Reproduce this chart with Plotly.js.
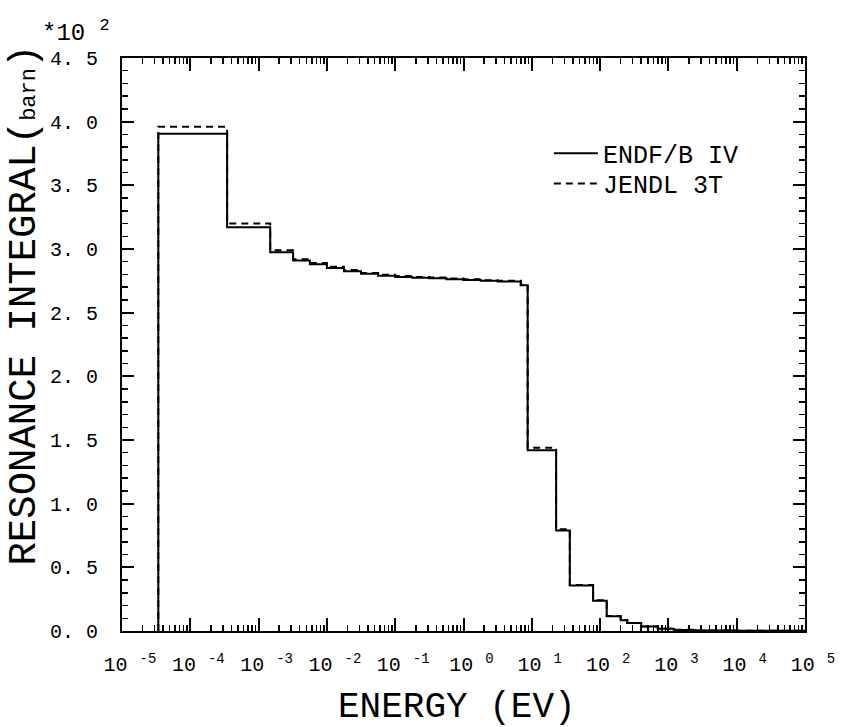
<!DOCTYPE html>
<html>
<head>
<meta charset="utf-8">
<script src="https://cdn.plot.ly/plotly-3.0.1.min.js"></script>
<style>html,body{margin:0;padding:0;background:#fff;}#chart{width:841px;height:727px;}</style>
</head>
<body>
<div id="chart"></div>
<script>
// Bin edges (eV)
const binEdges = [3.4e-5, 3.46e-4, 1.48e-3, 3.2e-3, 5.62e-3, 1e-2, 1.78e-2, 3.16e-2, 5.62e-2, 0.1, 0.178, 0.316, 0.562, 1.0, 1.78, 3.16, 6.9, 8.7, 22.7, 36, 79, 125, 200, 250, 400, 700, 1200, 2500, 1e4, 1e5];
// Resonance integral per bin (x10^2 barn)
const endfValues = [3.905, 3.17, 2.975, 2.91, 2.88, 2.85, 2.825, 2.805, 2.79, 2.78, 2.775, 2.77, 2.763, 2.757, 2.75, 2.745, 2.715, 1.42, 0.79, 0.358, 0.238, 0.115, 0.085, 0.062, 0.035, 0.018, 0.008, 0.003, 0.001];
const jendlValues = [3.96, 3.20, 2.99, 2.92, 2.89, 2.86, 2.835, 2.812, 2.797, 2.787, 2.781, 2.776, 2.768, 2.762, 2.755, 2.75, 2.72, 1.44, 0.80, 0.362, 0.242, 0.117, 0.087, 0.063, 0.036, 0.019, 0.009, 0.003, 0.001];
const seriesNames = ["ENDF/B IV", "JENDL 3T"];
const xTickVals = [1e-5, 1e-4, 1e-3, 1e-2, 1e-1, 1, 10, 100, 1000, 1e4, 1e5];
const xTickText = ["10 <sup>-5</sup>", "10 <sup>-4</sup>", "10 <sup>-3</sup>", "10 <sup>-2</sup>", "10 <sup>-1</sup>", "10 <sup>0</sup>", "10 <sup>1</sup>", "10 <sup>2</sup>", "10 <sup>3</sup>", "10 <sup>4</sup>", "10 <sup>5</sup>"];
const yTickVals = [0, 0.5, 1.0, 1.5, 2.0, 2.5, 3.0, 3.5, 4.0, 4.5];
const yTickText = ["0. 0", "0. 5", "1. 0", "1. 5", "2. 0", "2. 5", "3. 0", "3. 5", "4. 0", "4. 5"];

function stepXY(edges, vals) {
  const x = [edges[0]].concat(edges);
  const y = [0].concat(vals, [vals[vals.length - 1]]);
  return {x, y};
}
const endf = stepXY(binEdges, endfValues);
const jendl = stepXY(binEdges, jendlValues);

// minor log tick positions (2..9 within each decade)
const minorX = [];
for (let d = -5; d < 5; d++) for (let k = 2; k <= 9; k++) minorX.push(k * Math.pow(10, d));

const FONT = "Liberation Mono, DejaVu Sans Mono, monospace";

const traces = [
  {x: endf.x, y: endf.y, name: seriesNames[0], mode: "lines", legend: "legend",
   line: {shape: "hv", color: "#000", width: 2}},
  {x: jendl.x, y: jendl.y, name: seriesNames[1], mode: "lines", legend: "legend2",
   line: {shape: "hv", color: "#000", width: 2, dash: "7px,5px"}},
  // empty trace that carries the minor-tick overlay axes
  {x: [], y: [], xaxis: "x2", yaxis: "y2", showlegend: false, hoverinfo: "skip", mode: "lines"}
];

const legendStyle = {xanchor: "left", yanchor: "middle", bgcolor: "rgba(0,0,0,0)", itemwidth: 44,
                     font: {family: FONT, size: 25, color: "#000"}};

const layout = {
  width: 841, height: 727,
  margin: {l: 122, r: 36, t: 58, b: 96},
  paper_bgcolor: "#fff", plot_bgcolor: "#fff",
  font: {family: FONT, color: "#000", size: 20},
  showlegend: true,
  legend: Object.assign({x: 0.625, y: 0.8335}, legendStyle),
  legend2: Object.assign({x: 0.625, y: 0.7805}, legendStyle),
  xaxis: {
    type: "log", range: [-5, 5], showgrid: false, zeroline: false,
    showline: true, linecolor: "#000", linewidth: 2, mirror: "ticks",
    ticks: "inside", ticklen: 13, tickwidth: 2, tickcolor: "#000",
    tickmode: "array", tickvals: xTickVals, ticktext: xTickText,
    tickfont: {family: FONT, size: 20, color: "#000"},
    ticklabelstandoff: 14, ticklabelshift: 8
  },
  yaxis: {
    range: [0, 4.5], showgrid: false, zeroline: false,
    showline: true, linecolor: "#000", linewidth: 2, mirror: "ticks",
    ticks: "inside", ticklen: 12, tickwidth: 2, tickcolor: "#000",
    tickmode: "array", tickvals: yTickVals, ticktext: yTickText,
    tickfont: {family: FONT, size: 20, color: "#000"},
    ticklabelstandoff: 18
  },
  xaxis2: {
    type: "log", range: [-5, 5], overlaying: "x", side: "bottom", anchor: "y2",
    showgrid: false, zeroline: false, showline: false, mirror: "ticks",
    ticks: "inside", ticklen: 6, tickwidth: 1.5, tickcolor: "#000",
    tickmode: "array", tickvals: minorX, showticklabels: false
  },
  yaxis2: {
    range: [0, 4.5], overlaying: "y", side: "left", anchor: "x2",
    showgrid: false, zeroline: false, showline: false, mirror: "ticks",
    ticks: "inside", ticklen: 6, tickwidth: 1.5, tickcolor: "#000",
    tickmode: "linear", tick0: 0, dtick: 0.1, showticklabels: false
  },
  annotations: [
    {text: "ENERGY (EV)", xref: "paper", yref: "paper", x: 0.49, y: -0.133, xanchor: "center", yanchor: "middle",
     showarrow: false, font: {family: FONT, size: 36, color: "#000"}},
    {text: "RESONANCE INTEGRAL(<span style='font-size:22px'>barn</span>)", xref: "paper", yref: "paper",
     x: -0.142, y: 0.568, xanchor: "center", yanchor: "middle", textangle: -90,
     showarrow: false, font: {family: FONT, size: 39, color: "#000"}},
    {text: "*10 <sup>2</sup>", xref: "paper", yref: "paper", x: -0.12, y: 1.046, xanchor: "left", yanchor: "middle",
     showarrow: false, font: {family: FONT, size: 24, color: "#000"}}
  ]
};

Plotly.newPlot("chart", traces, layout, {staticPlot: true});
</script>
</body>
</html>
